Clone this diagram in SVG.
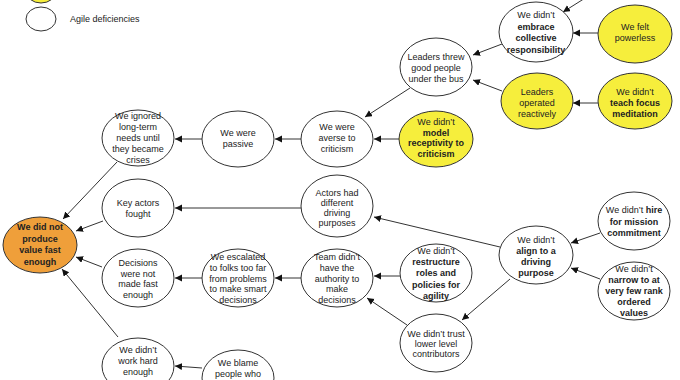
<svg xmlns="http://www.w3.org/2000/svg" width="680" height="380" viewBox="0 0 680 380">
<style>
  .n { fill: #ffffff; stroke: #333333; stroke-width: 1; }
  .y { fill: #f6ee3c; }
  .o { fill: #ef9f3a; }
  text { font-family: "Liberation Sans", Arial, sans-serif; font-size: 9px; fill: #222222; text-anchor: middle; }
  .b { font-weight: bold; }
  .lg { text-anchor: start; }
  .c line { stroke: #333333; stroke-width: 1; marker-end: url(#ah); }
</style>
<defs>
  <marker id="ah" markerUnits="userSpaceOnUse" markerWidth="8" markerHeight="8" refX="7" refY="3.5" orient="auto">
    <path d="M0,0 L7,3.5 L0,7 z" fill="#111111"/>
  </marker>
</defs>
<rect width="680" height="380" fill="#ffffff"/>

<g id="legend">
  <ellipse class="n y" cx="41" cy="-9" rx="15" ry="12"/>
  <ellipse class="n" cx="41" cy="19" rx="15" ry="12"/>
  <text class="lg" x="70" y="22">Agile deficiencies</text>
</g>

<g class="c" id="connectors">
  <line x1="117" y1="162" x2="63" y2="219"/>
  <line x1="103" y1="221" x2="76" y2="231"/>
  <line x1="102" y1="267" x2="76" y2="257"/>
  <line x1="118" y1="337" x2="62" y2="269"/>
  <line x1="202" y1="139" x2="175" y2="139"/>
  <line x1="301" y1="139" x2="275" y2="139"/>
  <line x1="400" y1="139" x2="374" y2="139"/>
  <line x1="410" y1="88" x2="365" y2="117"/>
  <line x1="502" y1="44" x2="473" y2="55"/>
  <line x1="598" y1="33" x2="573" y2="33"/>
  <line x1="502" y1="91" x2="473" y2="80"/>
  <line x1="598" y1="103" x2="573" y2="103"/>
  <line x1="590" y1="-5" x2="563" y2="12"/>
  <line x1="301" y1="208" x2="175" y2="208"/>
  <line x1="500" y1="247" x2="374" y2="217"/>
  <line x1="600" y1="233" x2="571" y2="243"/>
  <line x1="600" y1="279" x2="571" y2="268"/>
  <line x1="510" y1="279" x2="462" y2="320"/>
  <line x1="400" y1="276" x2="374" y2="276"/>
  <line x1="407" y1="325" x2="367" y2="298"/>
  <line x1="301" y1="278" x2="275" y2="278"/>
  <line x1="202" y1="278" x2="175" y2="278"/>
  <line x1="202" y1="368" x2="175" y2="366"/>
</g>

<g id="n-value">
  <ellipse class="n o" cx="40" cy="245" rx="37" ry="28"/>
  <text class="b" x="40" y="230">We did not<tspan x="40" dy="11.5">produce</tspan><tspan x="40" dy="11.5">value fast</tspan><tspan x="40" dy="11.5">enough</tspan></text>
</g>

<g id="n-ignored">
  <ellipse class="n" cx="138" cy="138" rx="36" ry="28"/>
  <text x="138" y="119">We ignored<tspan x="138" dy="11">long-term</tspan><tspan x="138" dy="11">needs until</tspan><tspan x="138" dy="11">they became</tspan><tspan x="138" dy="11">crises</tspan></text>
</g>

<g id="n-fought">
  <ellipse class="n" cx="138" cy="208" rx="36" ry="29"/>
  <text x="138" y="206">Key actors<tspan x="138" dy="11">fought</tspan></text>
</g>

<g id="n-decisions">
  <ellipse class="n" cx="138" cy="278" rx="36" ry="29"/>
  <text x="138" y="266">Decisions<tspan x="138" dy="10.5">were not</tspan><tspan x="138" dy="10.5">made fast</tspan><tspan x="138" dy="10.5">enough</tspan></text>
</g>

<g id="n-workhard">
  <ellipse class="n" cx="138" cy="366" rx="36" ry="28"/>
  <text x="138" y="353">We didn’t<tspan x="138" dy="11">work hard</tspan><tspan x="138" dy="11">enough</tspan></text>
</g>

<g id="n-blame">
  <ellipse class="n" cx="238" cy="378" rx="36" ry="28"/>
  <text x="238" y="366">We blame<tspan x="238" dy="10.5">people who</tspan></text>
</g>

<g id="n-escalated">
  <ellipse class="n" cx="238" cy="278" rx="36" ry="29"/>
  <text x="238" y="260">We escalated<tspan x="238" dy="10.8">to folks too far</tspan><tspan x="238" dy="10.8">from problems</tspan><tspan x="238" dy="10.8">to make smart</tspan><tspan x="238" dy="10.8">decisions</tspan></text>
</g>

<g id="n-team">
  <ellipse class="n" cx="337" cy="278" rx="36" ry="29"/>
  <text x="337" y="260">Team didn’t<tspan x="337" dy="10.8">have the</tspan><tspan x="337" dy="10.8">authority to</tspan><tspan x="337" dy="10.8">make</tspan><tspan x="337" dy="10.8">decisions</tspan></text>
</g>

<g id="n-passive">
  <ellipse class="n" cx="238" cy="139" rx="36" ry="28"/>
  <text x="238" y="136">We were<tspan x="238" dy="10.5">passive</tspan></text>
</g>

<g id="n-averse">
  <ellipse class="n" cx="337" cy="139" rx="36" ry="28"/>
  <text x="337" y="130">We were<tspan x="337" dy="11">averse to</tspan><tspan x="337" dy="11">criticism</tspan></text>
</g>

<g id="n-model">
  <ellipse class="n y" cx="436" cy="139" rx="37" ry="28"/>
  <text x="436" y="125">We didn’t<tspan class="b" x="436" dy="10.7">model</tspan><tspan class="b" x="436" dy="10.7">receptivity to</tspan><tspan class="b" x="436" dy="10.7">criticism</tspan></text>
</g>

<g id="n-leaders-threw">
  <ellipse class="n" cx="436" cy="67" rx="36" ry="29"/>
  <text x="436" y="60">Leaders threw<tspan x="436" dy="11">good people</tspan><tspan x="436" dy="11">under the bus</tspan></text>
</g>

<g id="n-embrace">
  <ellipse class="n" cx="536" cy="32" rx="37" ry="30"/>
  <text x="536" y="18">We didn’t<tspan class="b" x="536" dy="11.5">embrace</tspan><tspan class="b" x="536" dy="11.5">collective</tspan><tspan class="b" x="536" dy="11.5">responsibility</tspan></text>
</g>

<g id="n-powerless">
  <ellipse class="n y" cx="635" cy="34" rx="37" ry="29"/>
  <text x="635" y="30">We felt<tspan x="635" dy="11">powerless</tspan></text>
</g>

<g id="n-reactively">
  <ellipse class="n y" cx="537" cy="101" rx="36" ry="28"/>
  <text x="537" y="95">Leaders<tspan x="537" dy="11">operated</tspan><tspan x="537" dy="11">reactively</tspan></text>
</g>

<g id="n-meditation">
  <ellipse class="n y" cx="635" cy="101" rx="37" ry="28"/>
  <text x="635" y="95">We didn’t<tspan class="b" x="635" dy="11">teach focus</tspan><tspan class="b" x="635" dy="11">meditation</tspan></text>
</g>

<g id="n-actors">
  <ellipse class="n" cx="337" cy="206" rx="36" ry="31"/>
  <text x="337" y="196">Actors had<tspan x="337" dy="10">different</tspan><tspan x="337" dy="10">driving</tspan><tspan x="337" dy="10">purposes</tspan></text>
</g>

<g id="n-align">
  <ellipse class="n" cx="536" cy="255" rx="37" ry="29"/>
  <text x="536" y="243">We didn’t<tspan class="b" x="536" dy="11">align to a</tspan><tspan class="b" x="536" dy="11">driving</tspan><tspan class="b" x="536" dy="11">purpose</tspan></text>
</g>

<g id="n-hire">
  <ellipse class="n" cx="634" cy="221" rx="36" ry="29"/>
  <text x="634" y="213">We didn’t <tspan class="b">hire</tspan><tspan class="b" x="634" dy="11.5">for mission</tspan><tspan class="b" x="634" dy="11.5">commitment</tspan></text>
</g>

<g id="n-narrow">
  <ellipse class="n" cx="634" cy="291" rx="36" ry="29"/>
  <text x="634" y="272">We didn’t<tspan class="b" x="634" dy="11">narrow to at</tspan><tspan class="b" x="634" dy="11">very few rank</tspan><tspan class="b" x="634" dy="11">ordered</tspan><tspan class="b" x="634" dy="11">values</tspan></text>
</g>

<g id="n-restructure">
  <ellipse class="n" cx="436" cy="273" rx="36" ry="29"/>
  <text x="436" y="254">We didn’t<tspan class="b" x="436" dy="11.2">restructure</tspan><tspan class="b" x="436" dy="11.2">roles and</tspan><tspan class="b" x="436" dy="11.2">policies for</tspan><tspan class="b" x="436" dy="11.2">agility</tspan></text>
</g>

<g id="n-trust">
  <ellipse class="n" cx="436" cy="343" rx="36" ry="29"/>
  <text x="436" y="337">We didn’t trust<tspan x="436" dy="10">lower level</tspan><tspan x="436" dy="10">contributors</tspan></text>
</g>
</svg>
